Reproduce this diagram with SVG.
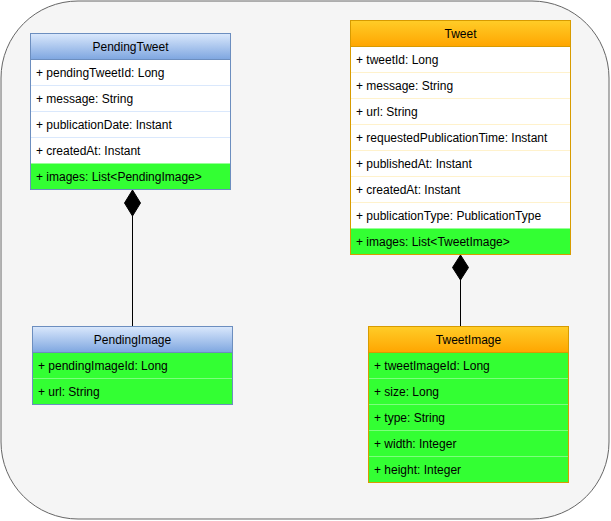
<svg xmlns="http://www.w3.org/2000/svg" width="611" height="521" viewBox="0 0 611 521">
<defs>
<linearGradient id="gBlue" x1="0" y1="0" x2="0" y2="1"><stop offset="0" stop-color="#dae8fc"/><stop offset="1" stop-color="#7ea6e0"/></linearGradient>
<linearGradient id="gOrange" x1="0" y1="0" x2="0" y2="1"><stop offset="0" stop-color="#ffcd28"/><stop offset="1" stop-color="#ffa500"/></linearGradient>
</defs>
<style>
text{font-family:"Liberation Sans",Arial,sans-serif;font-size:12px;fill:#000}
.h{text-anchor:middle}
.g{fill:#33ff33}
.sepB{stroke:#dae8fc;stroke-width:1}
.sepO{stroke:#fff2cc;stroke-width:1}
.sepG{stroke:#7dff7d;stroke-width:1}
.conn{stroke:#000;stroke-width:1;fill:none}
</style>
<rect x="1" y="1" width="608" height="518" rx="77" ry="77" fill="#f5f5f5" stroke="#666666"/>
<g id="PendingTweet">
<rect x="30.5" y="33.5" width="200" height="156" fill="#ffffff"/>
<rect x="30.5" y="163.5" width="200" height="26" class="g"/>
<rect x="30.5" y="33.5" width="200" height="26" fill="url(#gBlue)"/>
<line x1="31" y1="85.5" x2="230" y2="85.5" class="sepB"/>
<line x1="31" y1="111.5" x2="230" y2="111.5" class="sepB"/>
<line x1="31" y1="137.5" x2="230" y2="137.5" class="sepB"/>
<rect x="30.5" y="33.5" width="200" height="156" fill="none" stroke="#6c8ebf"/>
<line x1="30.5" y1="59.5" x2="230.5" y2="59.5" stroke="#6c8ebf"/>
<text x="130.5" y="50.5" class="h">PendingTweet</text>
<text x="36" y="77">+ pendingTweetId: Long</text>
<text x="36" y="103">+ message: String</text>
<text x="36" y="129">+ publicationDate: Instant</text>
<text x="36" y="155">+ createdAt: Instant</text>
<text x="36" y="181">+ images: List&lt;PendingImage&gt;</text>
</g>
<g id="Tweet">
<rect x="350.5" y="20.5" width="220" height="234" fill="#ffffff"/>
<rect x="350.5" y="228.5" width="220" height="26" class="g"/>
<rect x="350.5" y="20.5" width="220" height="26" fill="url(#gOrange)"/>
<line x1="351" y1="72.5" x2="570" y2="72.5" class="sepO"/>
<line x1="351" y1="98.5" x2="570" y2="98.5" class="sepO"/>
<line x1="351" y1="124.5" x2="570" y2="124.5" class="sepO"/>
<line x1="351" y1="150.5" x2="570" y2="150.5" class="sepO"/>
<line x1="351" y1="176.5" x2="570" y2="176.5" class="sepO"/>
<line x1="351" y1="202.5" x2="570" y2="202.5" class="sepO"/>
<rect x="350.5" y="20.5" width="220" height="234" fill="none" stroke="#d79b00"/>
<line x1="350.5" y1="46.5" x2="570.5" y2="46.5" stroke="#d79b00"/>
<text x="460.5" y="37.5" class="h">Tweet</text>
<text x="356" y="64">+ tweetId: Long</text>
<text x="356" y="90">+ message: String</text>
<text x="356" y="116">+ url: String</text>
<text x="356" y="142">+ requestedPublicationTime: Instant</text>
<text x="356" y="168">+ publishedAt: Instant</text>
<text x="356" y="194">+ createdAt: Instant</text>
<text x="356" y="220">+ publicationType: PublicationType</text>
<text x="356" y="246">+ images: List&lt;TweetImage&gt;</text>
</g>
<g id="PendingImage">
<rect x="32.5" y="352.5" width="200" height="52" class="g"/>
<rect x="32.5" y="326.5" width="200" height="26" fill="url(#gBlue)"/>
<line x1="33" y1="378.5" x2="232" y2="378.5" class="sepG"/>
<rect x="32.5" y="326.5" width="200" height="78" fill="none" stroke="#6c8ebf"/>
<line x1="32.5" y1="352.5" x2="232.5" y2="352.5" stroke="#6c8ebf"/>
<text x="132.5" y="343.5" class="h">PendingImage</text>
<text x="38" y="370">+ pendingImageId: Long</text>
<text x="38" y="396">+ url: String</text>
</g>
<g id="TweetImage">
<rect x="368.5" y="352.5" width="200" height="130" class="g"/>
<rect x="368.5" y="326.5" width="200" height="26" fill="url(#gOrange)"/>
<line x1="369" y1="378.5" x2="568" y2="378.5" class="sepG"/>
<line x1="369" y1="404.5" x2="568" y2="404.5" class="sepG"/>
<line x1="369" y1="430.5" x2="568" y2="430.5" class="sepG"/>
<line x1="369" y1="456.5" x2="568" y2="456.5" class="sepG"/>
<rect x="368.5" y="326.5" width="200" height="156" fill="none" stroke="#d79b00"/>
<line x1="368.5" y1="352.5" x2="568.5" y2="352.5" stroke="#d79b00"/>
<text x="468.5" y="343.5" class="h">TweetImage</text>
<text x="374" y="370">+ tweetImageId: Long</text>
<text x="374" y="396">+ size: Long</text>
<text x="374" y="422">+ type: String</text>
<text x="374" y="448">+ width: Integer</text>
<text x="374" y="474">+ height: Integer</text>
</g>
<g id="connectors">
<line x1="132.5" y1="216" x2="132.5" y2="326" class="conn"/>
<path d="M132.5 190 L140.5 203 L132.5 216 L124.5 203 Z" fill="#000" stroke="#000"/>
<line x1="460.5" y1="280" x2="460.5" y2="326" class="conn"/>
<path d="M460.5 255 L468.5 267.5 L460.5 280 L452.5 267.5 Z" fill="#000" stroke="#000"/>
</g>
</svg>
